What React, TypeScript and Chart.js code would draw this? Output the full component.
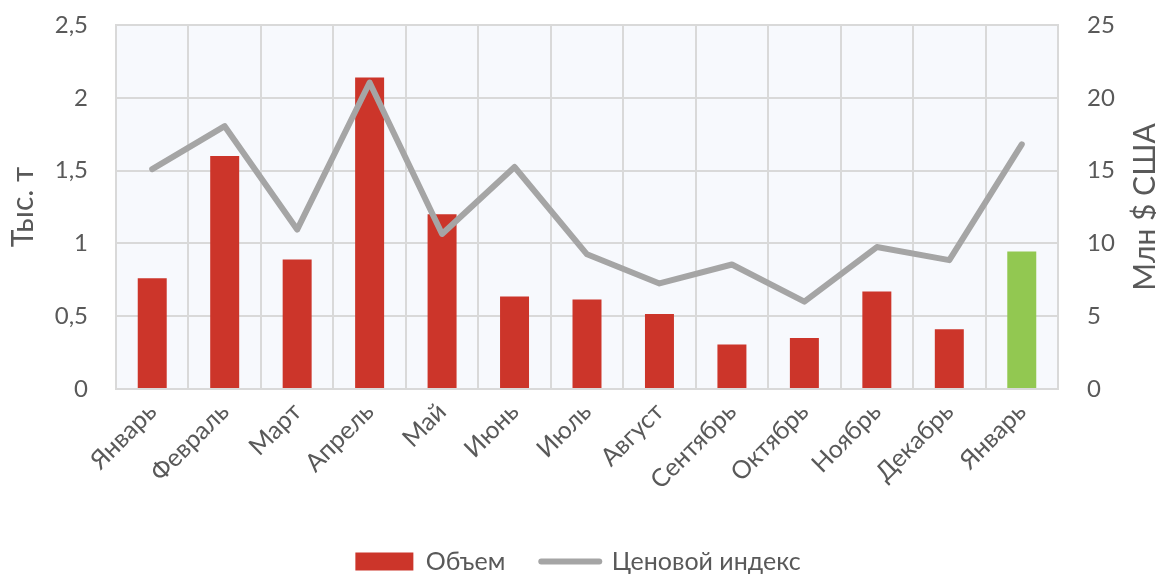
import React, { useEffect, useRef } from "react";
import { Chart, registerables } from "chart.js";

Chart.register(...registerables);

const categories = ["Январь", "Февраль", "Март", "Апрель", "Май", "Июнь", "Июль", "Август", "Сентябрь", "Октябрь", "Ноябрь", "Декабрь", "Январь"];
const volume = [0.76, 1.6, 0.89, 2.14, 1.2, 0.635, 0.615, 0.515, 0.305, 0.35, 0.67, 0.41, 0.945];
const priceIndex = [15.1, 18.05, 10.95, 21.05, 10.65, 15.25, 9.25, 7.25, 8.55, 6.0, 9.75, 8.85, 16.8];
const RED = "#CC352A";
const GREEN = "#92C851";
const GRAY = "#A5A5A5";
const barColors = volume.map((_, i) => (i === volume.length - 1 ? GREEN : RED));
const leftAxisTitle = "Тыс. т";
const rightAxisTitle = "Млн $ США";
const seriesNames = ["Объем", "Ценовой индекс"];

const TEXT = "#595959";
const GRID = "#D9D9D9";
const FONT = "Lato";

const fmt = (v: number | string) => String(v).replace(".", ",");

const bgPlugin = {
  id: "bg",
  beforeDraw(chart: any) {
    const { ctx, chartArea } = chart;
    ctx.save();
    ctx.fillStyle = "#F7F9FD";
    ctx.fillRect(chartArea.left, chartArea.top, chartArea.right - chartArea.left, chartArea.bottom - chartArea.top);
    ctx.restore();
  },
  afterDraw(chart: any) {
    const { ctx, chartArea } = chart;
    ctx.save();
    ctx.fillStyle = TEXT;
    ctx.font = `30px ${FONT}`;
    ctx.textAlign = "center";
    ctx.textBaseline = "middle";
    ctx.translate(1145, (chartArea.top + chartArea.bottom) / 2);
    ctx.rotate(-Math.PI / 2);
    ctx.fillText(rightAxisTitle, 0, 0);
    ctx.restore();
  },
};

export default function App() {
  const ref = useRef<HTMLCanvasElement>(null);
  useEffect(() => {
    if (!ref.current) return;
    const chart = new Chart(ref.current, {
      type: "bar",
      data: {
        labels: categories,
        datasets: [
          {
            type: "line",
            label: seriesNames[1],
            data: priceIndex,
            yAxisID: "y1",
            borderColor: GRAY,
            backgroundColor: GRAY,
            borderWidth: 6,
            pointRadius: 0,
            tension: 0,
            borderCapStyle: "round",
            borderJoinStyle: "round",
            order: 0,
          } as any,
          {
            type: "bar",
            label: seriesNames[0],
            data: volume,
            yAxisID: "y",
            backgroundColor: barColors,
            categoryPercentage: 1,
            barPercentage: 0.4,
            order: 1,
          },
        ],
      },
      options: {
        animation: false,
        responsive: false,
        maintainAspectRatio: false,
        layout: { padding: { top: 25, bottom: -10, left: 0, right: 0 } },
        plugins: {
          tooltip: { enabled: false },
          legend: {
            position: "bottom",
            labels: {
              usePointStyle: true,
              pointStyleWidth: 58,
              boxHeight: 18,
              padding: 36,
              color: TEXT,
              font: { family: FONT, size: 25 },
              generateLabels: () => [
                { text: seriesNames[0], fillStyle: RED, strokeStyle: RED, lineWidth: 0, pointStyle: "rect", datasetIndex: 1, fontColor: TEXT, hidden: false },
                { text: seriesNames[1], fillStyle: GRAY, strokeStyle: GRAY, lineWidth: 6, lineCap: "round", pointStyle: "line", datasetIndex: 0, fontColor: TEXT, hidden: false },
              ] as any,
            },
          },
        },
        scales: {
          x: {
            offset: true,
            grid: { color: GRID, lineWidth: 2, offset: true, drawTicks: false },
            border: { color: GRID, width: 2 },
            ticks: {
              color: TEXT,
              font: { family: FONT, size: 25 },
              maxRotation: 45,
              minRotation: 45,
              padding: 8,
            },
            afterFit: (s: any) => {
              s.height = 124;
            },
          },
          y: {
            position: "left",
            min: 0,
            max: 2.5,
            ticks: {
              stepSize: 0.5,
              color: TEXT,
              font: { family: FONT, size: 24 },
              padding: 2,
              callback: (v: any) => fmt(v),
            },
            grid: { color: GRID, lineWidth: 2, drawTicks: true, tickLength: 26, tickColor: "rgba(0,0,0,0)" },
            border: { color: GRID, width: 2 },
            title: {
              display: true,
              text: leftAxisTitle,
              color: TEXT,
              font: { family: FONT, size: 30, lineHeight: 1.2 },
              padding: { top: 5, bottom: 0 },
            },
            afterFit: (s: any) => {
              s.width = 116;
            },
          },
          y1: {
            position: "right",
            min: 0,
            max: 25,
            ticks: {
              stepSize: 5,
              color: TEXT,
              font: { family: FONT, size: 24 },
              padding: 2,
            },
            grid: { drawOnChartArea: false, drawTicks: true, tickLength: 27, tickColor: "rgba(0,0,0,0)" },
            border: { color: GRID, width: 2 },
            afterFit: (s: any) => {
              s.width = 98;
            },
          },
        },
      },
      plugins: [bgPlugin],
    });
    return () => chart.destroy();
  }, []);
  return (
    <div style={{ position: "fixed", left: 0, top: 0, width: 1156, height: 574, background: "#fff" }}>
      <canvas ref={ref} width={1156} height={574} style={{ width: 1156, height: 574, display: "block" }} />
    </div>
  );
}
